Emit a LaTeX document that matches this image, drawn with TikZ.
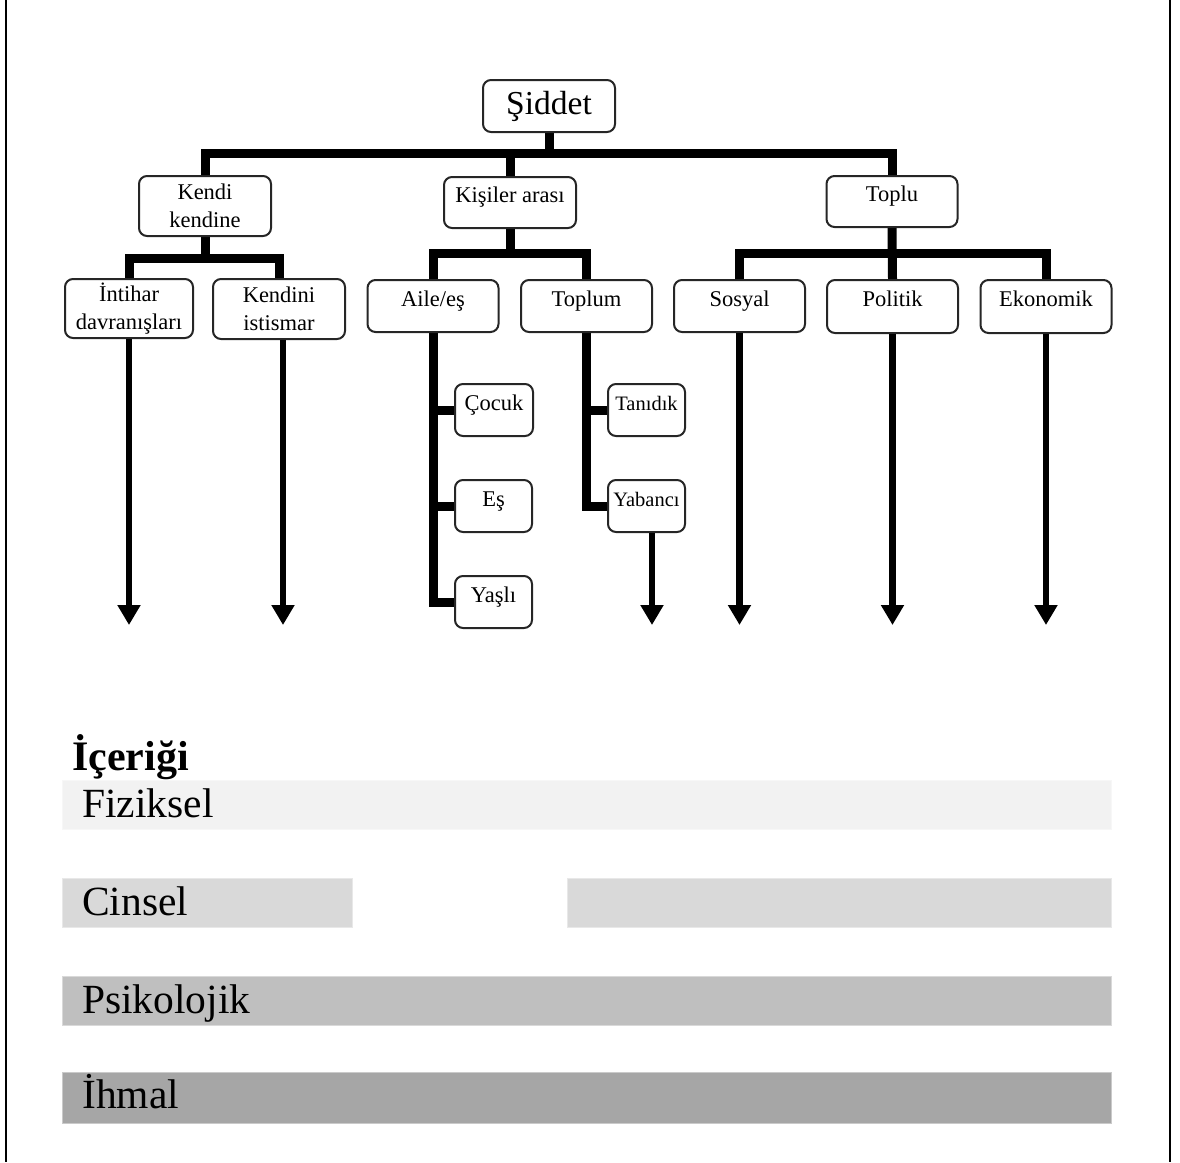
\documentclass[tikz,border=0pt]{standalone}
\usepackage{fontspec}
\setmainfont{Liberation Serif}
\usetikzlibrary{arrows.meta,backgrounds}
\definecolor{bandA}{HTML}{F2F2F2}
\definecolor{bandB}{HTML}{D9D9D9}
\definecolor{bandC}{HTML}{BFBFBF}
\definecolor{bandD}{HTML}{A6A6A6}
\begin{document}
\begin{tikzpicture}[x=1pt,y=-1pt,
  box/.style={draw=black!85, line width=2pt, rounded corners=8pt, fill=white,
    inner sep=0pt, font=\fontsize{22.5}{27.5}\selectfont, align=center},
  one/.style={text height=12pt, text depth=12pt},
  lvl/.style={minimum width=131pt, minimum height=52pt},
  subbox/.style={minimum width=77pt, minimum height=52pt},
  small/.style={font=\fontsize{20.5}{24}\selectfont},
  conn/.style={line width=9pt},
  arr/.style={line width=6.5pt, -{Triangle[width=22pt,length=20pt]}},
  band/.style={inner sep=0pt, minimum height=49pt, anchor=north west, line width=1pt},
  bigtext/.style={inner sep=0pt, anchor=base west, font=\fontsize{41.5}{48}\selectfont},
  frame/.style={line width=2pt}
]
\useasboundingbox (0,0) rectangle (1180,1162);
% frame
\draw[frame] (5.7,0) -- (5.7,1162);
\draw[frame] (1170,0) -- (1170,1162);

% root
\node[box, minimum width=132pt, minimum height=52pt, font=\fontsize{33.5}{40}\selectfont] (siddet) at (549,106) {Şiddet};

% level 1
\node[box, minimum width=132pt, minimum height=60pt] (kendi) at (205,206) {Kendi\\kendine};
\node[box, one, minimum width=132pt, minimum height=51pt] (kisiler) at (510,202.5) {Kişiler arası};
\node[box, one, minimum width=131pt, minimum height=51pt] (toplu) at (892,201.5) {Toplu};

% level 2
\node[box, minimum width=128pt, minimum height=59pt] (intihar) at (129,308.5) {İntihar\\davranışları};
\node[box, minimum width=132pt, minimum height=60pt] (istismar) at (279,309) {Kendini\\istismar};
\node[box, one, lvl] (aile) at (433,306) {Aile/eş};
\node[box, one, lvl] (toplum) at (586.5,306) {Toplum};
\node[box, one, lvl] (sosyal) at (739.5,306) {Sosyal};
\node[box, one, lvl, minimum height=53pt] (politik) at (892.5,306.5) {Politik};
\node[box, one, lvl, minimum height=53pt] (ekonomik) at (1046,306.5) {Ekonomik};

% level 3
\node[box, one, subbox, minimum width=78pt] (cocuk) at (494,410) {Çocuk};
\node[box, one, subbox] (es) at (493.5,506) {Eş};
\node[box, one, subbox] (yasli) at (493.5,602) {Yaşlı};
\node[box, one, subbox, small] (tanidik) at (646.5,410) {Tanıdık};
\node[box, one, subbox, small] (yabanci) at (646.5,506) {Yabancı};

% helper levels
\coordinate (b0) at (0,153);
\coordinate (b1) at (0,258);
\coordinate (b2) at (0,253.5);
\coordinate (b3) at (0,253);
\coordinate (tip) at (0,625);

\begin{scope}[on background layer]
  % root bar
  \draw[conn] (siddet.south) -- (siddet.south |- b0);
  \draw[conn] (kendi.north) -- (kendi.north |- b0) -- (toplu.north |- b0) -- (toplu.north);
  \draw[conn] (kisiler.north |- b0) -- (kisiler.north);
  % kendi kendine
  \draw[conn] (kendi.south) -- (kendi.south |- b1);
  \draw[conn] (intihar.north) -- (intihar.north |- b1) -- (istismar.north |- b1) -- (istismar.north);
  % kisiler arasi
  \draw[conn] (kisiler.south) -- (kisiler.south |- b2);
  \draw[conn] (aile.north) -- (aile.north |- b2) -- (toplum.north |- b2) -- (toplum.north);
  % toplu
  \draw[conn] (sosyal.north) -- (sosyal.north |- b3) -- (ekonomik.north |- b3) -- (ekonomik.north);
  \draw[conn] (toplu.south) -- (politik.north);
  % aile/es subtree
  \draw[conn] (aile.south) |- (yasli.west);
  \draw[conn] (aile.south |- cocuk.west) -- (cocuk.west);
  \draw[conn] (aile.south |- es.west) -- (es.west);
  % toplum subtree
  \draw[conn] (toplum.south) |- (yabanci.west);
  \draw[conn] (toplum.south |- tanidik.west) -- (tanidik.west);
\end{scope}

% arrows
\draw[arr] (intihar.south) -- (intihar.south |- tip);
\draw[arr] ([xshift=4pt]istismar.south) -- ([xshift=4pt]istismar.south |- tip);
\draw[arr] ([xshift=5.5pt]yabanci.south) -- ([xshift=5.5pt]yabanci.south |- tip);
\draw[arr] (sosyal.south) -- (sosyal.south |- tip);
\draw[arr] (politik.south) -- (politik.south |- tip);
\draw[arr] (ekonomik.south) -- (ekonomik.south |- tip);

% content section
\node[bigtext, font=\bfseries\fontsize{42}{48}\selectfont] (iceri) at (72,770) {İçeriği};

\node[band, fill=bandA, draw=bandA!60!white, minimum width=1049pt] (fizbar) at (62,780) {};
\node[bigtext] (fiz) at (82,817) {Fiziksel};

\node[band, fill=bandB, draw=bandB!60!white, minimum width=290pt] (cinbarA) at (62,878) {};
\node[band, fill=bandB, draw=bandB!60!white, minimum width=544pt] (cinbarB) at (567,878) {};
\node[bigtext] (cin) at (82,915) {Cinsel};

\node[band, fill=bandC, draw=bandC!60!white, minimum width=1049pt] (psibar) at (62,976) {};
\node[bigtext] (psi) at (82,1013) {Psikolojik};

\node[band, fill=bandD, draw=bandD!60!white, minimum width=1049pt, minimum height=51pt] (ihbar) at (62,1071.5) {};
\node[bigtext] (ih) at (82,1108) {İhmal};
\end{tikzpicture}
\end{document}
